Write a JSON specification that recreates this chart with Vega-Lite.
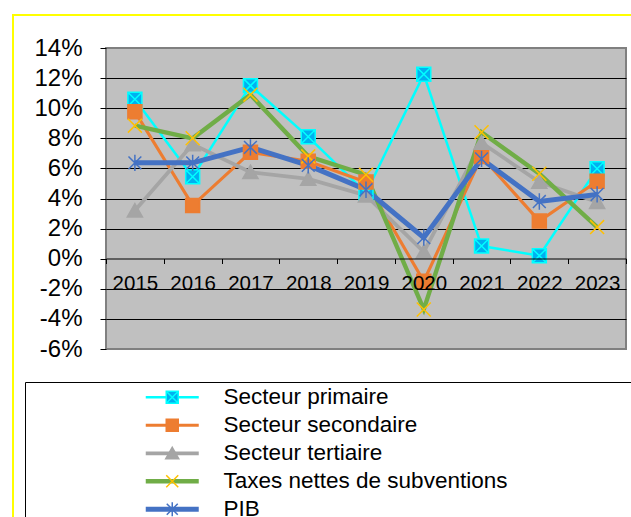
{
  "$schema": "https://vega.github.io/schema/vega-lite/v6.json",
  "width": 520,
  "height": 301,
  "autosize": "none",
  "padding": {"left": 106, "top": 48, "right": 5, "bottom": 168},
  "background": "white",
  "config": {
    "view": {"fill": "#c0c0c0", "stroke": "#808080", "strokeWidth": 2},
    "font": "Liberation Sans"
  },
  "data": {
    "values": [
      {"year": "2015", "series": "Secteur primaire", "value": 10.6},
      {"year": "2016", "series": "Secteur primaire", "value": 5.45},
      {"year": "2017", "series": "Secteur primaire", "value": 11.5},
      {"year": "2018", "series": "Secteur primaire", "value": 8.1},
      {"year": "2019", "series": "Secteur primaire", "value": 4.37},
      {"year": "2020", "series": "Secteur primaire", "value": 12.25},
      {"year": "2021", "series": "Secteur primaire", "value": 0.84},
      {"year": "2022", "series": "Secteur primaire", "value": 0.2},
      {"year": "2023", "series": "Secteur primaire", "value": 5.98},
      {"year": "2015", "series": "Secteur secondaire", "value": 9.77},
      {"year": "2016", "series": "Secteur secondaire", "value": 3.54},
      {"year": "2017", "series": "Secteur secondaire", "value": 7.07},
      {"year": "2018", "series": "Secteur secondaire", "value": 6.48},
      {"year": "2019", "series": "Secteur secondaire", "value": 5.09},
      {"year": "2020", "series": "Secteur secondaire", "value": -1.5},
      {"year": "2021", "series": "Secteur secondaire", "value": 6.79},
      {"year": "2022", "series": "Secteur secondaire", "value": 2.5},
      {"year": "2023", "series": "Secteur secondaire", "value": 5.15},
      {"year": "2015", "series": "Secteur tertiaire", "value": 3.2},
      {"year": "2016", "series": "Secteur tertiaire", "value": 7.6},
      {"year": "2017", "series": "Secteur tertiaire", "value": 5.75},
      {"year": "2018", "series": "Secteur tertiaire", "value": 5.3},
      {"year": "2019", "series": "Secteur tertiaire", "value": 4.2},
      {"year": "2020", "series": "Secteur tertiaire", "value": 0.45},
      {"year": "2021", "series": "Secteur tertiaire", "value": 7.7},
      {"year": "2022", "series": "Secteur tertiaire", "value": 5.1},
      {"year": "2023", "series": "Secteur tertiaire", "value": 3.77},
      {"year": "2015", "series": "Taxes nettes de subventions", "value": 8.84},
      {"year": "2016", "series": "Taxes nettes de subventions", "value": 8.0},
      {"year": "2017", "series": "Taxes nettes de subventions", "value": 10.9},
      {"year": "2018", "series": "Taxes nettes de subventions", "value": 6.8},
      {"year": "2019", "series": "Taxes nettes de subventions", "value": 5.58},
      {"year": "2020", "series": "Taxes nettes de subventions", "value": -3.37},
      {"year": "2021", "series": "Taxes nettes de subventions", "value": 8.4},
      {"year": "2022", "series": "Taxes nettes de subventions", "value": 5.64},
      {"year": "2023", "series": "Taxes nettes de subventions", "value": 2.1},
      {"year": "2015", "series": "PIB", "value": 6.37},
      {"year": "2016", "series": "PIB", "value": 6.37},
      {"year": "2017", "series": "PIB", "value": 7.4},
      {"year": "2018", "series": "PIB", "value": 6.2},
      {"year": "2019", "series": "PIB", "value": 4.58},
      {"year": "2020", "series": "PIB", "value": 1.4},
      {"year": "2021", "series": "PIB", "value": 6.63},
      {"year": "2022", "series": "PIB", "value": 3.8},
      {"year": "2023", "series": "PIB", "value": 4.27}
    ]
  },
  "encoding": {
    "x": {
      "field": "year",
      "type": "ordinal",
      "bandPosition": 0.5,
      "scale": {"type": "band", "paddingInner": 0, "paddingOuter": 0},
      "axis": {
        "title": null,
        "orient": "bottom",
        "offset": -90.5,
        "tickBand": "extent",
        "labelAngle": 0,
        "labelFontSize": 20.5,
        "labelColor": "black",
        "labelPadding": 10,
        "tickSize": 5,
        "tickColor": "black",
        "domainColor": "black",
        "domainWidth": 1,
        "grid": false,
        "zindex": 1
      }
    },
    "y": {
      "field": "value",
      "type": "quantitative",
      "scale": {"domain": [-6, 14], "nice": false, "zero": false},
      "axis": {
        "title": null,
        "values": [-6, -4, -2, 0, 2, 4, 6, 8, 10, 12, 14],
        "labelExpr": "datum.value + '%'",
        "labelFontSize": 24,
        "labelColor": "black",
        "labelPadding": 18,
        "tickSize": 6,
        "tickColor": "black",
        "domain": false,
        "grid": true,
        "gridColor": {"condition": {"test": "datum.value == 14 || datum.value == -6 || datum.value == 0", "value": "transparent"}, "value": "black"},
        "gridOpacity": 1,
        "gridWidth": 1,
        "zindex": 0
      }
    }
  },
  "layer": [
    {
      "mark": {"type": "line"},
      "encoding": {
        "color": {
          "field": "series",
          "type": "nominal",
          "scale": {
            "domain": ["Secteur primaire", "Secteur secondaire", "Secteur tertiaire", "Taxes nettes de subventions", "PIB"],
            "range": ["#00ffff", "#ed7d31", "#a5a5a5", "#70ad47", "#4472c4"]
          },
          "legend": {
            "title": null,
            "orient": "none",
            "legendX": -81,
            "legendY": 334,
            "direction": "vertical",
            "padding": 4,
            "symbolType": "M-5.3,0H5.3",
            "symbolSize": 100,
            "symbolStrokeWidth": 4,
            "symbolOpacity": 1,
            "symbolOffset": 132,
            "labelOffset": 40,
            "labelFontSize": 22.5,
            "labelColor": "black",
            "labelLimit": 600,
            "rowPadding": 5,
            "encode": {"symbols": {"update": {"strokeWidth": {"signal": "datum.value === 'Secteur primaire' ? 2.5 : 4.5"}}}}
          }
        },
        "strokeWidth": {
          "field": "series",
          "type": "nominal",
          "scale": {
            "domain": ["Secteur primaire", "Secteur secondaire", "Secteur tertiaire", "Taxes nettes de subventions", "PIB"],
            "range": [2.5, 5, 5, 4, 4.5]
          },
          "legend": null
        },
        "opacity": {
          "field": "series",
          "type": "ordinal",
          "scale": {
            "domain": ["PIB", "Secteur primaire", "Secteur secondaire", "Secteur tertiaire", "Taxes nettes de subventions"],
            "range": [1, 1]
          },
          "legend": {
            "title": null,
            "orient": "none",
            "legendX": -93,
            "legendY": -33,
            "strokeColor": "#ffff00",
            "padding": 330,
            "symbolSize": 0,
            "symbolStrokeWidth": 0,
            "symbolOffset": 0,
            "labelOffset": 0,
            "labelFontSize": 1,
            "labelExpr": "''",
            "rowPadding": 0,
            "encode": {"legend": {"update": {"strokeWidth": {"value": 2}}}, "symbols": {"update": {"opacity": {"value": 0}}}}
          }
        }
      }
    },
    {
      "mark": {"type": "point", "strokeWidth": 1.5, "opacity": 1},
      "encoding": {
        "size": {
          "field": "series",
          "type": "ordinal",
          "scale": {
            "domain": ["Taxes nettes de subventions", "Secteur tertiaire", "Secteur secondaire", "Secteur primaire", "PIB"],
            "range": [136, 136]
          },
          "legend": {
            "title": null,
            "orient": "none",
            "legendX": -81,
            "legendY": 334,
            "strokeColor": "black",
            "padding": 330,
            "symbolStrokeWidth": 0,
            "symbolOffset": 0,
            "labelOffset": 0,
            "labelFontSize": 1,
            "labelExpr": "''",
            "rowPadding": 0,
            "encode": {"symbols": {"update": {"opacity": {"value": 0}}}}
          }
        },
        "shape": {
          "field": "series",
          "type": "nominal",
          "sort": null,
          "scale": {
            "range": [
              "M-1.2,-1.2H1.2V1.2H-1.2Z M-1.2,-1.2L1.2,1.2 M1.2,-1.2L-1.2,1.2",
              "M-1.2,-1.2H1.2V1.2H-1.2Z",
              "M0,-1.2L1.3,1.1L-1.3,1.1Z",
              "M-1.2,-1.2L1.2,1.2 M1.2,-1.2L-1.2,1.2",
              "M-1.1,-1.1L1.1,1.1 M1.1,-1.1L-1.1,1.1 M0,-1.4V1.4"
            ]
          },
          "legend": {
            "title": null,
            "orient": "none",
            "legendX": -81,
            "legendY": 334,
            "direction": "vertical",
            "padding": 4,
            "symbolSize": 100,
            "symbolStrokeWidth": 1.5,
            "symbolOpacity": 1,
            "symbolOffset": 132,
            "labelOffset": 40,
            "labelFontSize": 22.5,
            "labelOpacity": 0,
            "labelLimit": 600,
            "rowPadding": 5
          }
        },
        "fill": {
          "field": "series",
          "type": "nominal",
          "sort": null,
          "scale": {"range": ["#00b0f0", "#ed7d31", "#a5a5a5", "#ffc000", "#4472c4"]},
          "legend": {
            "title": null,
            "orient": "none",
            "legendX": -81,
            "legendY": 334,
            "direction": "vertical",
            "padding": 4,
            "symbolSize": 100,
            "symbolStrokeWidth": 1.5,
            "symbolOpacity": 1,
            "symbolOffset": 132,
            "labelOffset": 40,
            "labelFontSize": 22.5,
            "labelOpacity": 0,
            "labelLimit": 600,
            "rowPadding": 5
          }
        },
        "stroke": {
          "field": "series",
          "type": "nominal",
          "sort": null,
          "scale": {"range": ["#00ffff", "#ed7d31", "#a5a5a5", "#ffc000", "#4472c4"]},
          "legend": {
            "title": null,
            "orient": "none",
            "legendX": -81,
            "legendY": 334,
            "direction": "vertical",
            "padding": 4,
            "symbolSize": 100,
            "symbolStrokeWidth": 1.5,
            "symbolOpacity": 1,
            "symbolOffset": 132,
            "labelOffset": 40,
            "labelFontSize": 22.5,
            "labelOpacity": 0,
            "labelLimit": 600,
            "rowPadding": 5
          }
        }
      }
    }
  ]
}
